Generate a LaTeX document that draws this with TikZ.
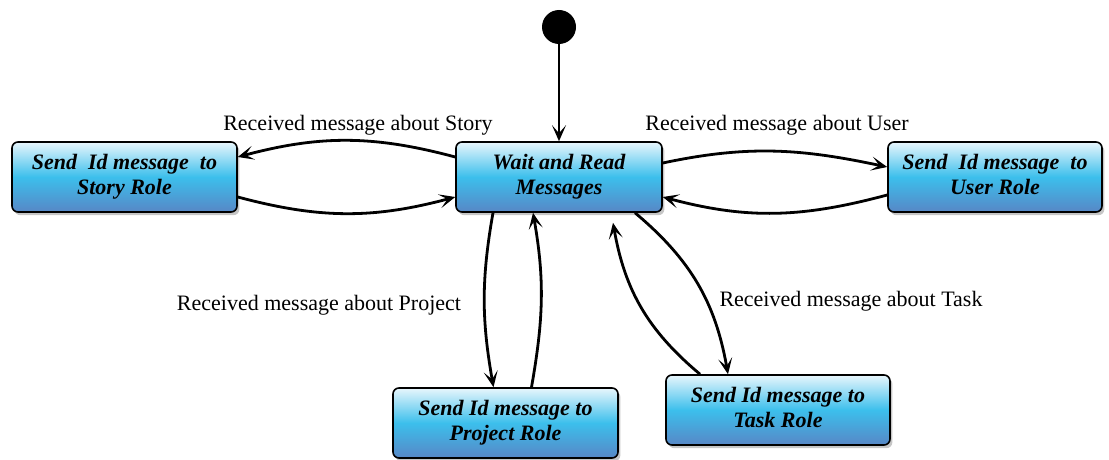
\documentclass[tikz,border=0pt]{standalone}
\usepackage{fontspec}
\setmainfont{Liberation Serif}
\usepackage{tikz}
\usetikzlibrary{
  arrows.meta,
  shapes,
  positioning,
  shadows
}
\definecolor{smTop}{HTML}{E8F6FC}
\definecolor{smMid}{HTML}{3CBFEC}
\definecolor{smBot}{HTML}{5787C6}
\tikzset{
  smstate/.style={
    draw=black, line width=0.8pt, rounded corners=3pt,
    minimum height=35pt, align=center,
    top color=smTop, bottom color=smBot, middle color=smMid,
    drop shadow={shadow xshift=1.2pt, shadow yshift=-1.6pt, opacity=0.45},
    font=\fontsize{11}{12.5}\selectfont\bfseries\itshape
  },
  sminit/.style={circle, fill=black, minimum size=17pt, inner sep=0pt},
  smtrans/.style={-{Stealth[length=8pt, width=7pt, inset=4pt]}, line width=1.4pt},
  smlabel/.style={font=\fontsize{11}{13}\selectfont}
}
\begin{document}
\begin{tikzpicture}[x=0.5pt, y=0.5pt]
  \useasboundingbox (0,0) rectangle (1109,-460);
  % states
  \node[sminit] (init) at (559,-27) {};
  \node[smstate, minimum width=103pt] (wait) at (559,-177) {\strut Wait and Read\\Messages\strut};
  \node[smstate, minimum width=112.5pt] (story) at (124.5,-177) {\strut Send\ \ Id message\ \ to\\Story Role\strut};
  \node[smstate, minimum width=107pt] (user) at (995,-177) {\strut Send\ \ Id message\ \ to\\User Role\strut};
  \node[smstate, minimum width=112.5pt] (project) at (505.5,-423) {\strut Send Id message to\\Project Role\strut};
  \node[smstate, minimum width=112pt] (task) at (778,-410) {\strut Send Id message to\\Task Role\strut};
  % transitions
  \draw[smtrans] (init) -- (wait);
  \draw[smtrans] ([yshift=10pt]wait.west) to[out=165, in=15] ([yshift=10pt]story.east);
  \draw[smtrans] ([yshift=-10pt]story.east) to[out=-15, in=195] ([yshift=-10pt]wait.west);
  \draw[smtrans] ([yshift=7pt]wait.east) to[out=12, in=168] ([yshift=5pt]user.west);
  \draw[smtrans] ([yshift=-9pt]user.west) to[out=195, in=-15] ([yshift=-10pt]wait.east);
  \draw[smtrans] ([xshift=-33pt]wait.south) to[out=-100, in=100] ([xshift=-6pt]project.north);
  \draw[smtrans] ([xshift=13pt]project.north) to[out=80, in=-80] ([xshift=-13pt]wait.south);
  \draw[smtrans] ([xshift=38pt]wait.south) to[out=-40, in=100] ([xshift=-25pt]task.north);
  \draw[smtrans] ([xshift=-39pt]task.north) to[out=140, in=-80] ([xshift=27pt,yshift=-5pt]wait.south);
  % labels
  \node[smlabel] (lstory) at (358,-125) {Received message about Story};
  \node[smlabel] (luser) at (777,-125) {Received message about User};
  \node[smlabel] (lproject) at (319,-305) {Received message about Project};
  \node[smlabel] (ltask) at (851,-301) {Received message about Task};
\end{tikzpicture}
\end{document}
